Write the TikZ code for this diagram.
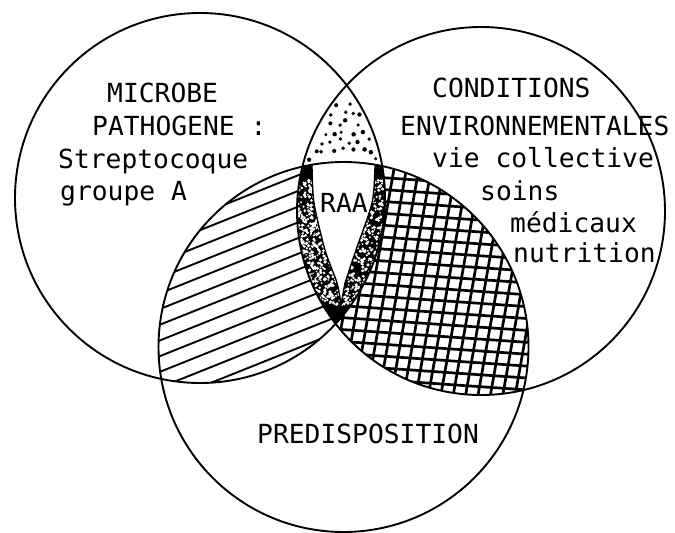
\documentclass[tikz,border=0pt]{standalone}
\usepackage{fontspec}
\newfontfamily\typefont{DejaVu Sans Mono}
\begin{document}
\begin{tikzpicture}[x=1pt,y=-1pt,
  ring/.style={line width=1.9pt},
  txt/.style={font={\typefont\fontsize{26.3pt}{30pt}\selectfont}, inner sep=0pt, anchor=base west},
  hatchline/.style={line width=1.9pt},
  gridline/.style={line width=2.7pt},
  lensline/.style={line width=1.4pt},
]
\useasboundingbox (0,0) rectangle (675,533);
\def\radL{185pt}
\def\radR{184pt}
\def\radB{185pt}
\coordinate (cL) at (200,198);
\coordinate (cR) at (481,211);
\coordinate (cB) at (343.5,347);

% single hatching: microbe + predisposition
\begin{scope}
  \clip (cL) circle[radius=\radL];
  \clip (cB) circle[radius=\radB];
  \foreach \k in {-12,...,10}
    \draw[hatchline] (120,325+15.7*\k) -- ++(300,-120);
\end{scope}

% cross hatching: environment + predisposition
\begin{scope}
  \clip (cR) circle[radius=\radR];
  \clip (cB) circle[radius=\radB];
  \foreach \k in {-2,...,22}
    \draw[gridline] (300,160+11.9*\k) -- ++(260,18);
  \foreach \k in {-6,...,22}
    \draw[gridline] (300+12.4*\k,420) -- ++(46,-260);
\end{scope}

% dotted lens: microbe + environment
\pgfmathsetseed{4}
\foreach \i in {0,...,9} {
  \foreach \j in {0,...,9} {
    \pgfmathsetmacro\dx{300+9.6*\i+4.8*mod(\j,2)+(rnd-0.5)*6}
    \pgfmathsetmacro\dy{84+9.6*\j+(rnd-0.5)*6}
    \pgfmathsetmacro\dr{1.6+rnd*0.7}
    \pgfmathsetmacro\ok{and(and(veclen(\dx-200,\dy-198)<181,veclen(\dx-481,\dy-211)<180),veclen(\dx-343.5,\dy-347)>189)}
    \ifdim\ok pt>0.5pt
      \fill (\dx,\dy) circle[radius=\dr pt];
    \fi
  }
}

% RAA: common part of the three circles, with its two stippled bands
\begin{scope}
  \clip (cL) circle[radius=\radL];
  \clip (cR) circle[radius=\radR];
  \clip (cB) circle[radius=\radB];
  \fill[black] (290,150) rectangle (400,340);
  \pgfmathsetseed{7}
  \foreach \i in {1,...,1300} {
    \pgfmathsetmacro\sx{298+rnd*90}
    \pgfmathsetmacro\sy{180+rnd*125}
    \pgfmathsetmacro\sr{0.8+rnd*1.0}
    \fill[white] (\sx,\sy) circle[radius=\sr pt];
  }
  \fill[white] plot[smooth] coordinates {(311,150) (312,168) (314,203) (325,250) (337,283) (341,305)}
    -- plot[smooth] coordinates {(345,283) (356,250) (372,203) (375,168) (376,150)} -- cycle;
  \draw[lensline] plot[smooth] coordinates {(311,150) (312,168) (314,203) (325,250) (337,283) (341,305)}
    -- plot[smooth] coordinates {(345,283) (356,250) (372,203) (375,168) (376,150)};
\end{scope}

% the three circles
\draw[ring] (cL) circle[radius=\radL];
\draw[ring] (cR) circle[radius=\radR];
\draw[ring] (cB) circle[radius=\radB];

% labels
\node[txt] (m1) at (107,102) {MICROBE};
\node[txt] (m2) at (92,135) {PATHOGENE :};
\node[txt] (m3) at (58,168) {Streptocoque};
\node[txt] (m4) at (60,200) {groupe A};

\node[txt] (e1) at (432,97) {CONDITIONS};
\node[txt] (e2) at (400,135) {ENVIRONNEMENTALES};
\node[txt] (e3) at (432,167) {vie collective};
\node[txt] (e4) at (480,200) {soins};
\node[txt] (e5) at (510,232) {médicaux};
\node[txt] (e6) at (513,262) {nutrition};

\node[txt] (raa) at (320,212) {RAA};
\node[txt] (p1) at (257,443) {PREDISPOSITION};
\end{tikzpicture}
\end{document}
